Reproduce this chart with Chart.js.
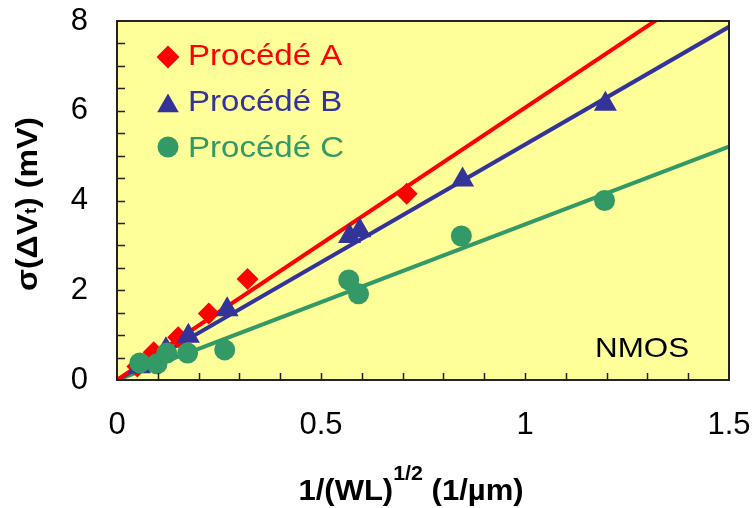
<!DOCTYPE html>
<html>
<head>
<meta charset="utf-8">
<script src="https://cdn.jsdelivr.net/npm/chart.js@4.4.0/dist/chart.umd.min.js"></script>
<style>
    html, body { margin: 0; padding: 0; background: #fff; }
</style>
</head>
<body>
<canvas id="sigma-chart" width="756" height="508"></canvas>
<script>
// Mismatch data: sigma(dVt) vs 1/sqrt(WL)
const seriesNames = ['Procédé A', 'Procédé B', 'Procédé C'];

const xA = [0.05, 0.09, 0.15, 0.225, 0.32, 0.71];
const yA = [0.30, 0.62, 0.95, 1.48, 2.25, 4.15];

const xB = [0.055, 0.12, 0.175, 0.27, 0.57, 0.595, 0.847, 1.197];
const yB = [0.30, 0.68, 0.98, 1.57, 3.20, 3.33, 4.46, 6.15];

const xC = [0.056, 0.098, 0.122, 0.173, 0.264, 0.568, 0.592, 0.844, 1.195];
const yC = [0.38, 0.36, 0.60, 0.60, 0.67, 2.23, 1.92, 3.21, 4.00];

// fitted lines, end points
const fitX = [0, 1.5];
const fitA = [0, 9.1];
const fitB = [0, 7.87];
const fitC = [0, 5.2];

const xTicks = [0, 0.5, 1, 1.5];
const yTicks = [0, 2, 4, 6, 8];

const RED = '#ff0000';
const BLUE = '#333399';
const GREEN = '#339966';
const FONT = '"Liberation Sans", Arial, sans-serif';

function toPoints(xs, ys) {
    return xs.map(function(x, i) { return { x: x, y: ys[i] }; });
}

function markerSet(label, xs, ys, colour, style, radius, order) {
    return {
        label: label,
        data: toPoints(xs, ys),
        pointStyle: style,
        pointRadius: radius,
        pointBackgroundColor: colour,
        pointBorderWidth: 0,
        backgroundColor: colour,
        borderColor: colour,
        clip: false,
        order: order
    };
}

function fitLine(ys, colour) {
    return {
        data: toPoints(fitX, ys),
        showLine: true,
        pointRadius: 0,
        borderColor: colour,
        borderWidth: 4,
        fill: false,
        order: 5
    };
}

// draw a marker shape for the legend
function drawMarker(ctx, style, x, y, r, colour) {
    ctx.save();
    ctx.fillStyle = colour;
    ctx.beginPath();
    if (style === 'rectRot') {
        ctx.moveTo(x - r, y); ctx.lineTo(x, y - r); ctx.lineTo(x + r, y); ctx.lineTo(x, y + r);
    } else if (style === 'triangle') {
        ctx.moveTo(x, y - r);
        ctx.lineTo(x + Math.sin(2 * Math.PI / 3) * r, y + r / 2);
        ctx.lineTo(x - Math.sin(2 * Math.PI / 3) * r, y + r / 2);
    } else {
        ctx.arc(x, y, r, 0, Math.PI * 2);
    }
    ctx.closePath();
    ctx.fill();
    ctx.restore();
}

// text slightly stretched sideways, like the original's wide lettering
function wideText(ctx, text, x, y, sx) {
    ctx.save();
    ctx.translate(x, y);
    ctx.scale(sx, 1);
    ctx.fillText(text, 0, 0);
    ctx.restore();
}

// draw a run of text pieces (for sub/superscripts), centred on cx
function drawPieces(ctx, pieces, cx, baseY, sx) {
    let total = 0;
    pieces.forEach(function(p) { ctx.font = p.font; total += ctx.measureText(p.text).width; });
    ctx.save();
    ctx.translate(cx, baseY);
    ctx.scale(sx, 1);
    let x = -total / 2;
    pieces.forEach(function(p) {
        ctx.font = p.font;
        ctx.fillText(p.text, x, p.dy || 0);
        x += ctx.measureText(p.text).width;
    });
    ctx.restore();
}

const framePlugin = {
    id: 'framePlugin',
    beforeDraw: function(chart) {
        const a = chart.chartArea;
        const ctx = chart.ctx;
        ctx.save();
        ctx.fillStyle = '#ffff99';
        ctx.fillRect(a.left, a.top, a.right - a.left, a.bottom - a.top);
        ctx.restore();
    },
    afterDraw: function(chart) {
        const a = chart.chartArea;
        const ctx = chart.ctx;
        const xs = chart.scales.x;
        const ys = chart.scales.y;
        ctx.save();

        // inner tick marks
        ctx.strokeStyle = '#222';
        ctx.lineWidth = 1.5;
        ctx.beginPath();
        for (let v = 0.5; v < 8; v += 0.5) {
            const py = Math.round(ys.getPixelForValue(v)) + 0.5;
            ctx.moveTo(a.left, py); ctx.lineTo(a.left + 8, py);
        }
        for (let i = 1; i < 15; i++) {
            const px = Math.round(xs.getPixelForValue(i / 10)) + 0.5;
            ctx.moveTo(px, a.bottom); ctx.lineTo(px, a.bottom - 7);
        }
        ctx.stroke();

        // frame
        ctx.lineWidth = 2;
        ctx.strokeRect(a.left, a.top, a.right - a.left, a.bottom - a.top);

        // legend inside the plot
        const rows = [
            { style: 'rectRot', r: 11.5, colour: RED, my: 57, ty: 65 },
            { style: 'triangle', r: 12.5, colour: BLUE, my: 106, ty: 111 },
            { style: 'circle', r: 10.5, colour: GREEN, my: 147, ty: 157 }
        ];
        ctx.textBaseline = 'alphabetic';
        ctx.textAlign = 'left';
        rows.forEach(function(row, i) {
            drawMarker(ctx, row.style, 168, row.my, row.r, row.colour);
            ctx.fillStyle = row.colour;
            ctx.font = '29px ' + FONT;
            wideText(ctx, seriesNames[i], 188, row.ty, 1.14);
        });

        // NMOS tag
        ctx.fillStyle = '#000';
        ctx.font = '28px ' + FONT;
        wideText(ctx, 'NMOS', 595, 357, 1.12);

        // x axis title
        drawPieces(ctx, [
            { text: '1/(WL)', font: 'bold 29px ' + FONT },
            { text: '1/2', font: 'bold 20px ' + FONT, dy: -20 },
            { text: ' (1/µm)', font: 'bold 29px ' + FONT }
        ], 411, 500, 1.07);

        // y axis title, rotated
        ctx.translate(37, 204);
        ctx.rotate(-Math.PI / 2);
        drawPieces(ctx, [
            { text: 'σ(ΔV', font: 'bold 30px ' + FONT },
            { text: 't', font: 'bold 17px ' + FONT, dy: -1 },
            { text: ') (mV)', font: 'bold 30px ' + FONT }
        ], 0, 0, 1.07);

        ctx.restore();
    }
};

const ctx = document.getElementById('sigma-chart').getContext('2d');
const sigmaChart = new Chart(ctx, {
    type: 'scatter',
    data: {
        datasets: [
            markerSet(seriesNames[0], xA, yA, RED, 'rectRot', 11, 2),
            markerSet(seriesNames[1], xB, yB, BLUE, 'triangle', 13.3, 1),
            markerSet(seriesNames[2], xC, yC, GREEN, 'circle', 10.5, 0),
            fitLine(fitA, RED),
            fitLine(fitB, BLUE),
            fitLine(fitC, GREEN)
        ]
    },
    options: {
        responsive: false,
        animation: false,
        layout: { padding: { top: 21, right: 27, left: 0, bottom: 0 } },
        plugins: {
            legend: { display: false },
            tooltip: { enabled: false }
        },
        scales: {
            x: {
                type: 'linear',
                min: 0,
                max: 1.5,
                afterBuildTicks: function(s) { s.ticks = xTicks.map(function(v) { return { value: v }; }); },
                afterFit: function(s) {
                    s.height = 128;
                    s.paddingLeft = 0; s.paddingRight = 0;
                    s.paddingTop = 0; s.paddingBottom = 0;
                },
                grid: { display: false, drawTicks: false },
                border: { display: false },
                ticks: {
                    padding: 27,
                    color: '#000',
                    maxRotation: 0,
                    autoSkip: false,
                    font: { family: FONT, size: 31 },
                    callback: function(v) { return String(v); }
                }
            },
            y: {
                type: 'linear',
                min: 0,
                max: 8,
                afterBuildTicks: function(s) { s.ticks = yTicks.map(function(v) { return { value: v }; }); },
                afterFit: function(s) {
                    s.width = 117;
                    s.paddingLeft = 0; s.paddingRight = 0;
                    s.paddingTop = 0; s.paddingBottom = 0;
                },
                grid: { display: false, drawTicks: false },
                border: { display: false },
                ticks: {
                    padding: 29,
                    color: '#000',
                    font: { family: FONT, size: 31 },
                    callback: function(v) { return String(v); }
                }
            }
        }
    },
    plugins: [framePlugin]
});
</script>
</body>
</html>
